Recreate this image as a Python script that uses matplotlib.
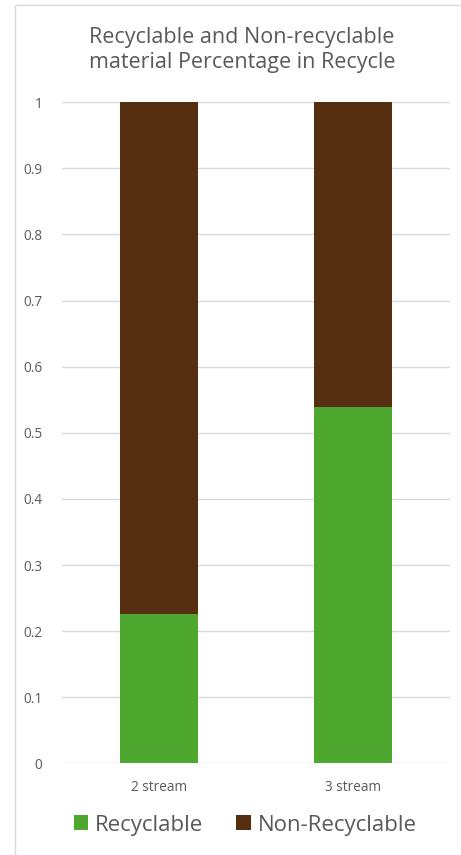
import numpy as np
import matplotlib.pyplot as plt
from matplotlib.patches import Rectangle

categories = ['2 stream', '3 stream']
recyclable = [0.226, 0.539]
non_recyclable = [0.774, 0.461]
yticks = [0, 0.1, 0.2, 0.3, 0.4, 0.5, 0.6, 0.7, 0.8, 0.9, 1]
ytick_labels = ['0', '0.1', '0.2', '0.3', '0.4', '0.5', '0.6', '0.7', '0.8', '0.9', '1']

green = '#4EA72E'
brown = '#562F10'
text_gray = '#595959'
grid_gray = '#D9D9D9'

plt.rcParams['font.family'] = ['Open Sans', 'DejaVu Sans']

fig = plt.figure(figsize=(4.61, 8.55), dpi=100)
# chart area border (left and top visible in the crop)
fig.patches.append(Rectangle((15 / 461, -0.1), 1.2, 1.1 - 5 / 855, transform=fig.transFigure,
                             fill=False, edgecolor=grid_gray, linewidth=1))

ax = fig.add_axes([0.1345, 0.1072, 0.976 - 0.1345, 0.8804 - 0.1072])
x = np.arange(len(categories))
ax.bar(x, recyclable, width=0.4, color=green, label='Recyclable', zorder=3)
ax.bar(x, non_recyclable, width=0.4, bottom=recyclable, color=brown,
       label='Non-Recyclable', zorder=3)

ax.set_xlim(-0.5, 1.5)
ax.set_ylim(0, 1)
ax.set_yticks(yticks)
ax.set_yticklabels(ytick_labels)
ax.set_xticks(x)
ax.set_xticklabels(categories)
ax.tick_params(axis='both', length=0, labelsize=9.8, colors=text_gray)
ax.tick_params(axis='y', pad=14)
ax.tick_params(axis='x', pad=12)
ax.grid(axis='y', color=grid_gray, linewidth=1, zorder=0)
for s in ax.spines.values():
    s.set_visible(False)

fig.text(242 / 461, 1 - 50 / 855, 'Recyclable and Non-recyclable\nmaterial Percentage in Recycle',
         ha='center', va='center', fontsize=15.5, color=text_gray, linespacing=1.2)

fig.legend(loc='center', bbox_to_anchor=(245 / 461, 1 - 825 / 855), ncol=2, frameon=False,
           fontsize=16, labelcolor=text_gray, handlelength=0.65, handleheight=0.65,
           handletextpad=0.3, columnspacing=1.5)

fig.savefig('out.png', dpi=100)
